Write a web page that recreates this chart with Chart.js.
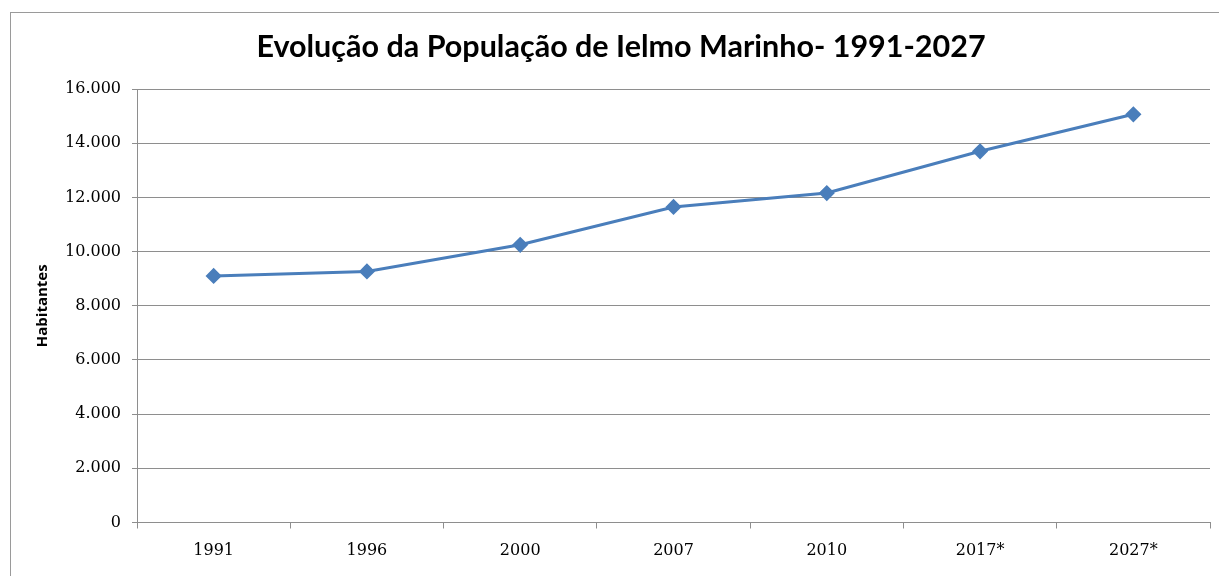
<!DOCTYPE html>
<html>
<head>
<meta charset="utf-8">
<script src="https://cdn.jsdelivr.net/npm/chart.js@4/dist/chart.umd.min.js"></script>
<style>
  html, body { margin: 0; padding: 0; background: #ffffff; overflow: hidden; }
  #frame { position: absolute; left: 10px; top: 12px; width: 1300px; height: 700px; border: 1px solid #9a9a9a; box-sizing: border-box; }
  #wrap { position: absolute; left: 0; top: 0; width: 1219px; height: 576px; }
</style>
</head>
<body>
<div id="frame"></div>
<div id="wrap"><canvas id="c" width="1219" height="576"></canvas></div>
<script>
const categories = ['1991', '1996', '2000', '2007', '2010', '2017*', '2027*'];
const populacao = [9100, 9265, 10250, 11645, 12160, 13700, 15065];
const yTicks = [0, 2000, 4000, 6000, 8000, 10000, 12000, 14000, 16000];

function fmt(v) {
  return String(v).replace(/\B(?=(\d{3})+(?!\d))/g, '.');
}

const gridColor = '#8e8e8e';

new Chart(document.getElementById('c'), {
  type: 'line',
  data: {
    labels: categories,
    datasets: [{
      label: 'Habitantes',
      data: populacao,
      borderColor: '#4a7ebb',
      backgroundColor: '#4a7ebb',
      borderWidth: 3,
      pointStyle: 'rectRot',
      pointRadius: 6,
      pointHoverRadius: 6,
      tension: 0,
      fill: false
    }]
  },
  options: {
    responsive: false,
    animation: false,
    devicePixelRatio: 1,
    layout: { padding: { left: 28, right: 5, top: 0, bottom: 0 } },
    plugins: {
      legend: { display: false },
      tooltip: { enabled: false },
      title: {
        display: true,
        text: 'Evolução da População de Ielmo Marinho- 1991-2027',
        color: '#000000',
        font: { family: 'Lato', size: 30.5, weight: 'bold', lineHeight: 1.2 },
        padding: { top: 29, bottom: 23.4 }
      }
    },
    scales: {
      x: {
        offset: true,
        grid: { display: true, drawOnChartArea: false, drawTicks: true, tickLength: 6, color: gridColor, offset: true },
        border: { display: true, color: gridColor, width: 1 },
        ticks: { color: '#000000', font: { family: 'DejaVu Serif', size: 16 }, padding: 13, maxRotation: 0 },
        afterFit: (s) => { s.height = 53.5; }
      },
      y: {
        min: 0,
        max: 16000,
        afterBuildTicks: (s) => { s.ticks = yTicks.map(v => ({ value: v })); },
        grid: { color: gridColor, lineWidth: 1, drawTicks: true, tickLength: 5 },
        border: { display: true, color: gridColor, width: 1 },
        ticks: { color: '#000000', font: { family: 'DejaVu Serif', size: 16 }, padding: 11, callback: (v) => fmt(v) },
        title: {
          display: true,
          text: 'Habitantes',
          color: '#000000',
          font: { family: 'Open Sans', size: 15, weight: 'bold' },
          padding: { top: 6, bottom: 0 }
        },
        afterFit: (s) => { s.width = 109; }
      }
    }
  }
});
</script>
</body>
</html>
